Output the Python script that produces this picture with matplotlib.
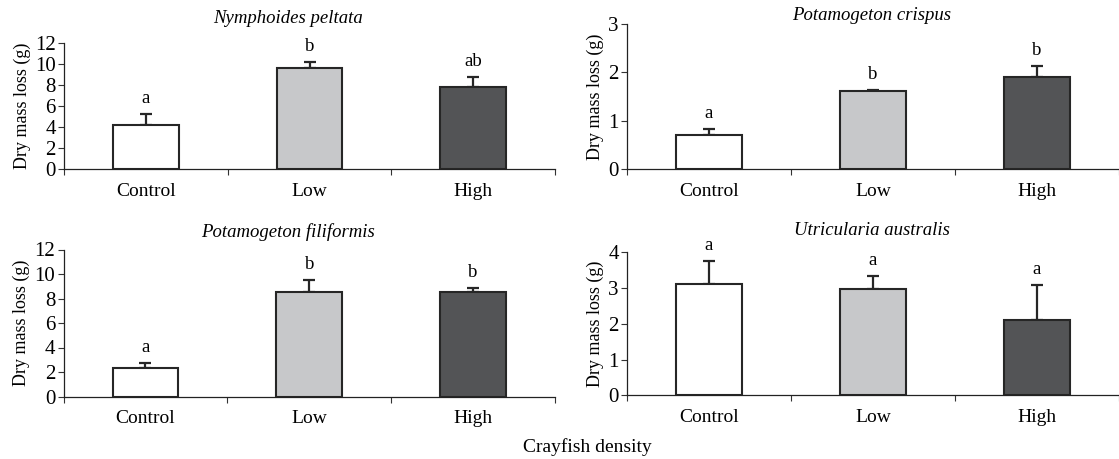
import matplotlib
matplotlib.use('Agg')
import matplotlib.pyplot as plt
import numpy as np

plt.rcParams['font.family'] = ['Liberation Serif', 'DejaVu Serif']
plt.rcParams['font.size'] = 13

# ---- data ----
categories = ['Control', 'Low', 'High']

nymphoides_mean = [4.25, 9.6, 7.85]
nymphoides_se = [1.0, 0.65, 0.95]
nymphoides_letters = ['a', 'b', 'ab']

crispus_mean = [0.71, 1.62, 1.90]
crispus_se = [0.12, 0.02, 0.23]
crispus_letters = ['a', 'b', 'b']

filiformis_mean = [2.3, 8.55, 8.5]
filiformis_se = [0.45, 0.95, 0.32]
filiformis_letters = ['a', 'b', 'b']

utricularia_mean = [3.1, 2.96, 2.1]
utricularia_se = [0.65, 0.38, 0.98]
utricularia_letters = ['a', 'a', 'a']

bar_colors = ['white', '#c7c8ca', '#535456']
W, H = 1119, 459


def px_axes(x0, x1, y_top, y_bot):
    """axes rect from pixel coordinates"""
    return [x0 / W, 1 - y_bot / H, (x1 - x0) / W, (y_bot - y_top) / H]


panels = [
    # title, means, se, letters, ylim, yticks, rect, title pos (axes frac)
    ('Nymphoides peltata', nymphoides_mean, nymphoides_se, nymphoides_letters,
     12, np.arange(0, 13, 2), px_axes(64, 555, 43.3, 169.3), 0.456, 1.20),
    ('Potamogeton crispus', crispus_mean, crispus_se, crispus_letters,
     3, np.arange(0, 4, 1), px_axes(627, 1119, 24, 169.3), 0.498, 1.06),
    ('Potamogeton filiformis', filiformis_mean, filiformis_se, filiformis_letters,
     12, np.arange(0, 13, 2), px_axes(63.5, 555, 249.5, 396.5), 0.457, 1.12),
    ('Utricularia australis', utricularia_mean, utricularia_se, utricularia_letters,
     4, np.arange(0, 5, 1), px_axes(627, 1119, 252.3, 395.3), 0.498, 1.15),
]

fig = plt.figure(figsize=(W / 100, H / 100), dpi=100)

for title, mean, se, letters, ymax, yticks, rect, tx, ty in panels:
    ax = fig.add_axes(rect)
    x = np.arange(len(categories))
    ax.bar(x, mean, width=0.4, color=bar_colors, edgecolor='#262626',
           linewidth=1.5, zorder=2)
    ax.errorbar(x, mean, yerr=[np.zeros(len(se)), se], fmt='none',
                ecolor='#262626', elinewidth=1.6, capsize=4, capthick=1.6,
                zorder=1)
    for xi, m, s, lab in zip(x, mean, se, letters):
        ax.annotate(lab, xy=(xi, m + s), xytext=(0, 8), textcoords='offset points',
                    ha='center', va='baseline', fontsize=13.5, annotation_clip=False)

    ax.set_xlim(-0.5, 2.5)
    ax.set_ylim(0, ymax)
    ax.set_yticks(yticks)
    ax.set_xticks([-0.5, 0.5, 1.5, 2.5])
    ax.set_xticklabels([])
    ax.set_xticks(x, minor=True)
    ax.set_xticklabels(categories, minor=True, fontsize=14)
    ax.tick_params(axis='x', which='minor', length=0, pad=10)
    ax.tick_params(axis='x', which='major', length=4, width=0.8, color='#333333')
    ax.tick_params(axis='y', length=4, width=0.8, color='#333333', pad=2,
                   labelsize=15)
    for side in ['top', 'right']:
        ax.spines[side].set_visible(False)
    for side in ['left', 'bottom']:
        ax.spines[side].set_linewidth(0.9)
        ax.spines[side].set_color('#222222')
    ax.set_ylabel('Dry mass loss (g)', labelpad=3)
    ax.text(tx, ty, title, transform=ax.transAxes, ha='center', va='center',
            style='italic', fontsize=13.5)

fig.text(587 / W, 1 - 447 / H, 'Crayfish density', ha='center', va='center',
         fontsize=14)

plt.savefig('out.png', dpi=100)
